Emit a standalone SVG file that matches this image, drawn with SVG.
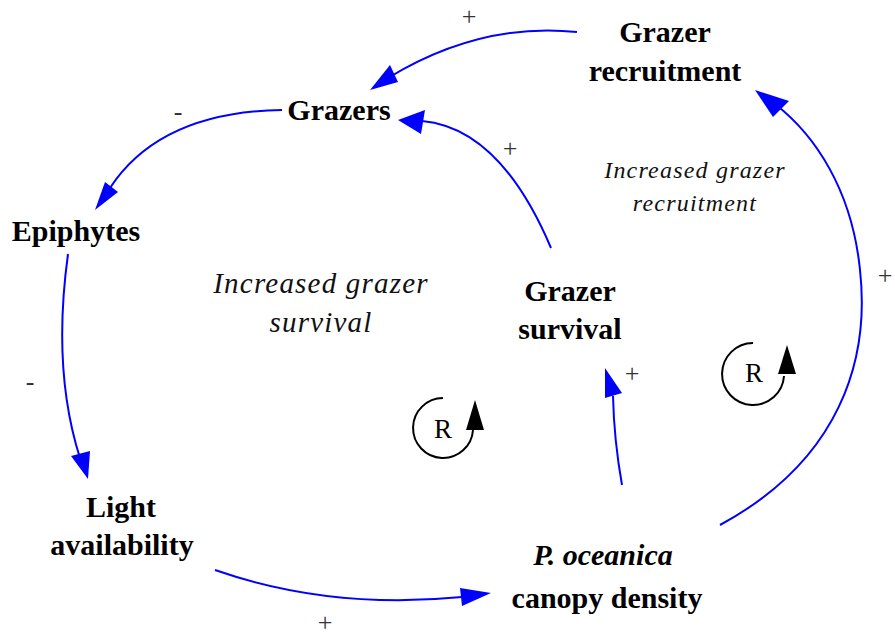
<svg xmlns="http://www.w3.org/2000/svg" width="895" height="637" viewBox="0 0 895 637">
<style>
.node{font-family:"Liberation Serif","Times New Roman",serif;font-weight:bold;font-size:30px;fill:#000;text-anchor:middle}
.lbl{font-family:"Liberation Serif","Times New Roman",serif;font-style:italic;fill:#111;text-anchor:middle}
.sign{font-family:"Liberation Serif","Times New Roman",serif;font-size:26px;fill:#333;text-anchor:middle}
.link{fill:none;stroke:#0000ff;stroke-width:2}
.head{fill:#0000ff;stroke:none}
.loop{fill:none;stroke:#000;stroke-width:2}
.rtxt{font-family:"Liberation Serif","Times New Roman",serif;font-size:27px;fill:#000;text-anchor:middle}
</style>
<rect width="895" height="637" fill="#fff"/>
<g id="connectors">
  <path class="link" d="M577,32 Q480,22 388,78"/>
  <polygon class="head" points="370,90 390,65 398,82"/>
  <path class="link" d="M282,110 Q160,112 110,188"/>
  <polygon class="head" points="95,210 105,182 118,192"/>
  <path class="link" d="M68,254 Q52,370 80,458"/>
  <polygon class="head" points="88,479 71,456 90,451"/>
  <path class="link" d="M215,570 Q330,610 462,597"/>
  <polygon class="head" points="491,593 460,588 462,606"/>
  <path class="link" d="M622,485 Q614,440 613,396"/>
  <polygon class="head" points="605,368 605,398 622,393"/>
  <path class="link" d="M551,248 Q500,128 422,121"/>
  <polygon class="head" points="398,120 425,110 421,134"/>
  <path class="link" d="M720,525 C840,460 870,360 860,270 C852,190 815,135 775,104"/>
  <polygon class="head" points="755,90 789,101 773,117"/>
</g>
<g id="signs">
  <text class="sign" x="469" y="25">+</text>
  <text class="sign" x="178" y="120">-</text>
  <text class="sign" x="510" y="157">+</text>
  <text class="sign" x="885" y="284">+</text>
  <text class="sign" x="30" y="390">-</text>
  <text class="sign" x="632" y="382">+</text>
  <text class="sign" x="325" y="631">+</text>
</g>
<g id="grazer-recruitment"><text class="node" x="665" y="42">Grazer</text><text class="node" x="665" y="81">recruitment</text></g>
<g id="grazers"><text class="node" x="339" y="120">Grazers</text></g>
<g id="epiphytes"><text class="node" x="76" y="241">Epiphytes</text></g>
<g id="grazer-survival"><text class="node" x="570" y="301">Grazer</text><text class="node" x="570" y="339">survival</text></g>
<g id="light-availability"><text class="node" x="121" y="517">Light</text><text class="node" x="122" y="555">availability</text></g>
<g id="p-oceanica"><text class="node" x="603" y="565" font-style="italic">P. oceanica</text><text class="node" x="607" y="608">canopy density</text></g>
<g id="loop-survival">
  <text class="lbl" x="321" y="293" font-size="29" letter-spacing="1.2">Increased grazer</text>
  <text class="lbl" x="321" y="332" font-size="29" letter-spacing="1.2">survival</text>
  <path class="loop" d="M443,398 A30,30 0 1 0 473,430"/>
  <polygon fill="#000" points="475,400 466,430 484,430"/>
  <text class="rtxt" x="443" y="438">R</text>
</g>
<g id="loop-recruitment">
  <text class="lbl" x="695" y="178" font-size="24" letter-spacing="1.2">Increased grazer</text>
  <text class="lbl" x="695" y="211" font-size="24" letter-spacing="1.2">recruitment</text>
  <path class="loop" d="M753,343 A31,31 0 1 0 784,376"/>
  <polygon fill="#000" points="787,345 778,374 796,374"/>
  <text class="rtxt" x="754" y="382">R</text>
</g>
</svg>
